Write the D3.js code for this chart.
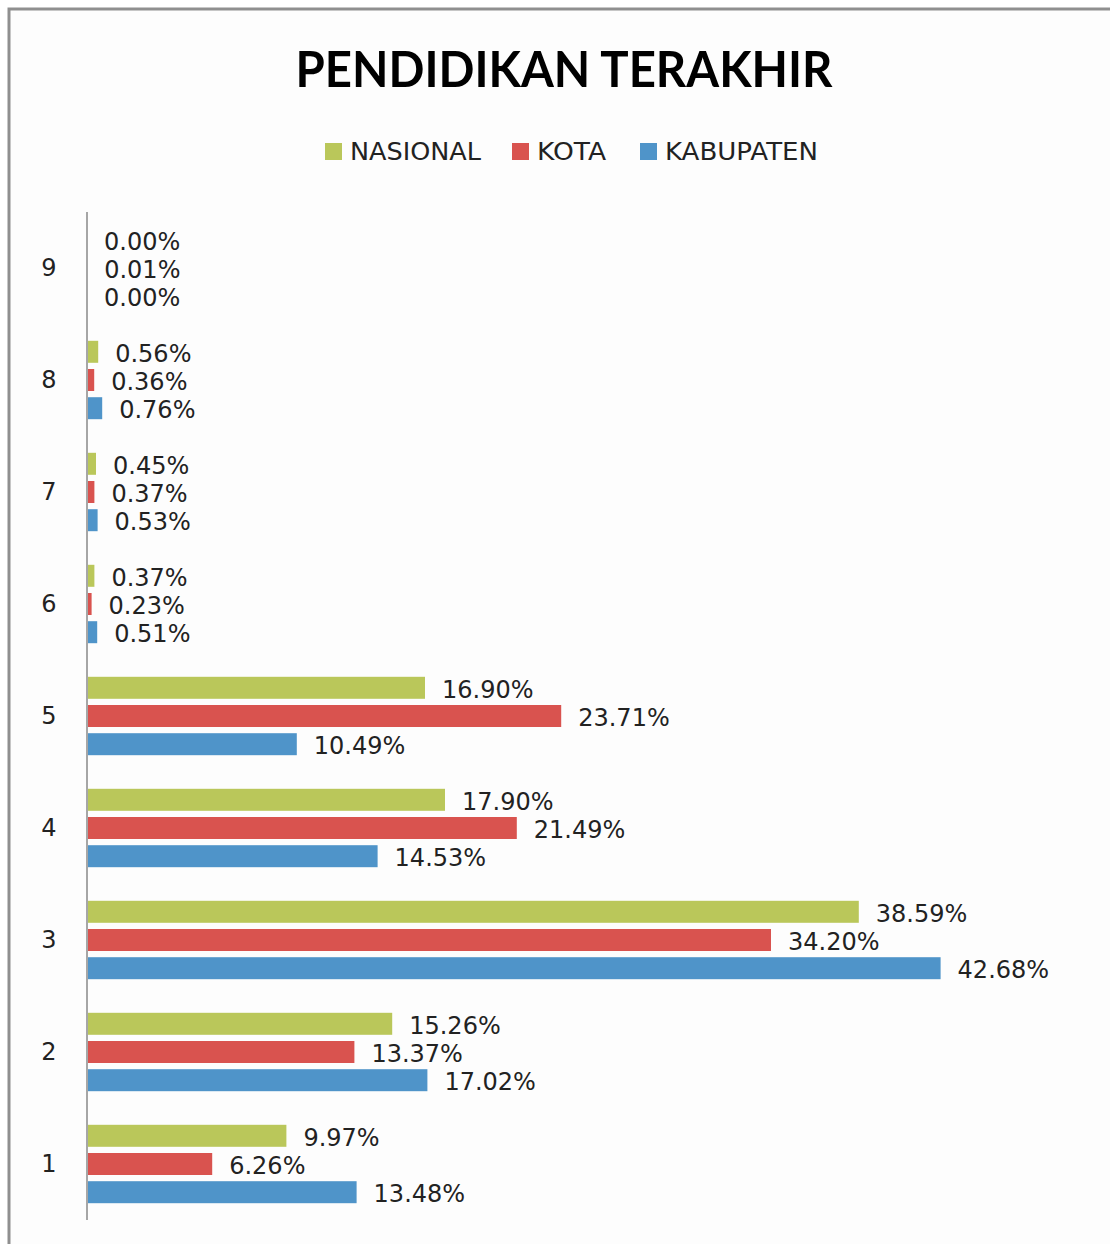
<!DOCTYPE html>
<html>
<head>
<meta charset="utf-8">
<script src="https://cdn.jsdelivr.net/npm/d3@7"></script>
<style>
  body { margin: 0; background: #fff; }
  svg { display: block; }
</style>
</head>
<body>
<div id="chart"></div>
<script>
var categories = ["9", "8", "7", "6", "5", "4", "3", "2", "1"];
var series = ["NASIONAL", "KOTA", "KABUPATEN"];
var colors = ["#bac75a", "#d9534f", "#4f94c9"];
// percent values, same order as categories
var nasional = [0.00, 0.56, 0.45, 0.37, 16.90, 17.90, 38.59, 15.26, 9.97];
var kota = [0.01, 0.36, 0.37, 0.23, 23.71, 21.49, 34.20, 13.37, 6.26];
var kabupaten = [0.00, 0.76, 0.53, 0.51, 10.49, 14.53, 42.68, 17.02, 13.48];
var values = [nasional, kota, kabupaten];

var width = 1110;
var height = 1244;

var svg = d3.select("#chart")
  .append("svg")
  .attr("width", width)
  .attr("height", height);

//outer border of the chart area
svg.append("rect")
  .attr("x", 9)
  .attr("y", 9)
  .attr("width", 1200)
  .attr("height", 1400)
  .attr("fill", "#fdfdfd")
  .attr("stroke", "#8f8f8f")
  .attr("stroke-width", 3);

//title
svg.append("text")
  .attr("x", 564)
  .attr("y", 87)
  .attr("text-anchor", "middle")
  .attr("font-family", "Lato, 'Open Sans', sans-serif")
  .attr("font-weight", "bold")
  .attr("font-size", 50)
  .attr("textLength", 537)
  .attr("lengthAdjust", "spacingAndGlyphs")
  .attr("fill", "#000")
  .text("PENDIDIKAN TERAKHIR");

//legend
var legendX = [325, 512, 640];
var legendW = [131, 69, 153];
var legend = svg.append("g");
series.forEach(function (s, i) {
  legend.append("rect")
    .attr("x", legendX[i])
    .attr("y", 143)
    .attr("width", 17)
    .attr("height", 17)
    .attr("fill", colors[i]);
  legend.append("text")
    .attr("x", legendX[i] + 25)
    .attr("y", 160)
    .attr("font-family", "'DejaVu Sans', Verdana, sans-serif")
    .attr("font-size", 24)
    .attr("textLength", legendW[i])
    .attr("lengthAdjust", "spacingAndGlyphs")
    .attr("fill", "#222")
    .text(s);
});

var x = d3.scaleLinear()
  .domain([0, 50])
  .range([87, 1087]);

var y = d3.scaleBand()
  .domain(categories)
  .range([212, 1220])
  .paddingInner(0.3)
  .paddingOuter(0.15);

var ySub = d3.scaleBand()
  .domain(series)
  .range([0, y.bandwidth()])
  .paddingInner(0.22);

//category axis labels
var yAxis = d3.axisLeft(y).tickSize(0).tickPadding(0);
var axisG = svg.append("g")
  .attr("transform", "translate(87,0)")
  .call(yAxis);
axisG.select(".domain").remove();
axisG.selectAll("text")
  .attr("x", -38)
  .attr("text-anchor", "middle")
  .attr("font-family", "'DejaVu Sans', Verdana, sans-serif")
  .attr("font-size", 24)
  .attr("fill", "#222");

//bars and value labels
var groups = svg.selectAll(".group")
  .data(categories)
  .enter()
  .append("g")
  .attr("class", "group")
  .attr("transform", function (d) { return "translate(0," + y(d) + ")"; });

groups.each(function (cat, ci) {
  var g = d3.select(this);
  series.forEach(function (s, si) {
    var v = values[si][ci];
    g.append("rect")
      .attr("x", x(0))
      .attr("y", ySub(s))
      .attr("width", x(v) - x(0))
      .attr("height", ySub.bandwidth())
      .attr("fill", colors[si]);
    g.append("text")
      .attr("x", x(v) + 17)
      .attr("y", ySub(s) + ySub.bandwidth() / 2 + 10)
      .attr("font-family", "'DejaVu Sans', Verdana, sans-serif")
      .attr("font-size", 24)
      .attr("fill", "#222")
      .text(v.toFixed(2) + "%");
  });
});

//vertical axis line
svg.append("line")
  .attr("x1", x(0))
  .attr("x2", x(0))
  .attr("y1", 212)
  .attr("y2", 1220)
  .attr("stroke", "#a6a6a6")
  .attr("stroke-width", 2);
</script>
</body>
</html>
